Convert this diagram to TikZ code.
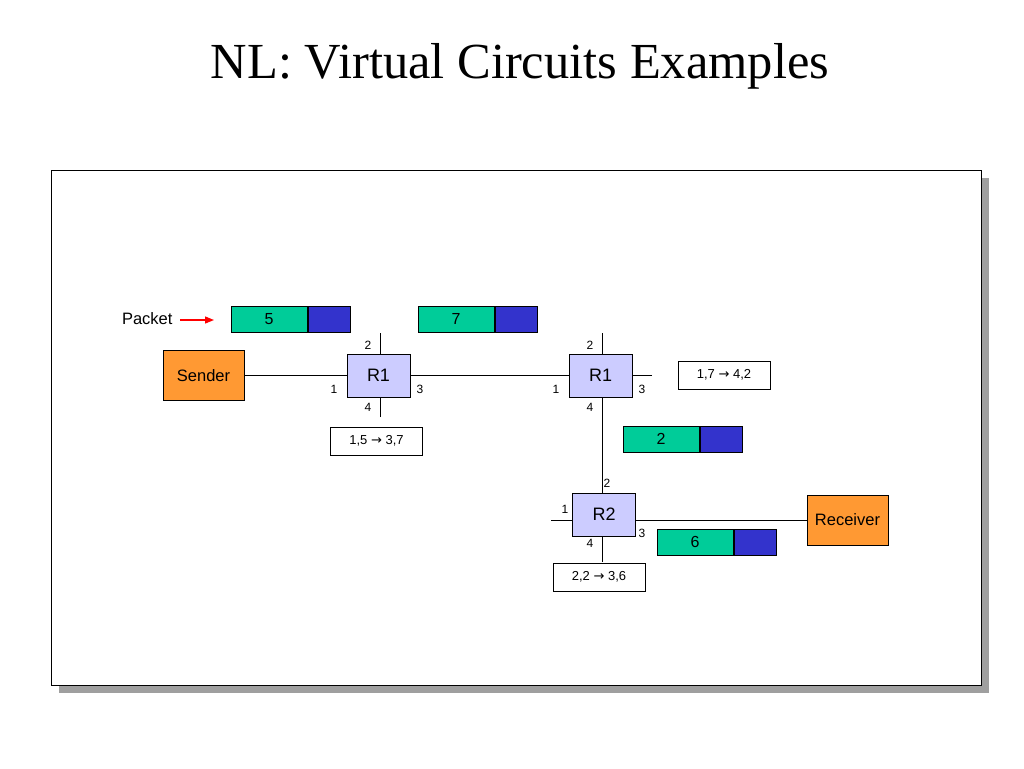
\documentclass[tikz,border=0pt]{standalone}
\usepackage{fontspec}
\setmainfont{Liberation Serif}
\setsansfont{Liberation Sans}
\newfontfamily\arrowfont{DejaVu Sans}
\usetikzlibrary{positioning,arrows.meta,calc}
\definecolor{hdrgreen}{RGB}{0,204,153}
\definecolor{loadblue}{RGB}{51,51,204}
\definecolor{hostorange}{RGB}{255,153,51}
\definecolor{routerblue}{RGB}{204,204,255}
\newcommand{\fwd}{{\arrowfont →}}

\begin{document}
\begin{tikzpicture}[x=1pt,y=-1pt,line width=1pt,
	host/.style={draw,fill=hostorange,minimum width=81pt,minimum height=50pt,inner sep=0pt,font=\sffamily\fontsize{16.5}{16.5}\selectfont},
	router/.style={draw,fill=routerblue,minimum width=63pt,minimum height=43pt,inner sep=0pt,font=\sffamily\fontsize{18}{18}\selectfont},
	fwdtable/.style={draw,fill=white,minimum width=92pt,minimum height=28pt,inner sep=0pt,font=\sffamily\fontsize{13}{13}\selectfont},
	hdr/.style={draw,fill=hdrgreen,minimum width=76pt,minimum height=26pt,inner sep=0pt,font=\sffamily\fontsize{16}{16}\selectfont},
	load/.style={draw,fill=loadblue,minimum width=42pt,minimum height=26pt,inner sep=0pt},
	port/.style={inner sep=0pt,font=\sffamily\fontsize{12}{12}\selectfont}
	]
	\useasboundingbox (0,0) rectangle (1024,768);
	\node[anchor=base,font=\fontsize{50.5}{50.5}\selectfont] (title) at (520,78) {NL: Virtual Circuits Examples};
	\fill[gray!75] (59,178) rectangle (989,693);
	\draw[fill=white] (51,170) rectangle (981,685);
	
	\node[host] (snd) at (203.5,375.5) {Sender};
	\node[host] (rcv) at (847.5,520) {Receiver};
	\node[router] (r1a) at (378.5,375.5) {R1};
	\node[router] (r1b) at (600.5,375.5) {R1};
	\node[router] (r2) at (604,514.5) {R2};
	
	\node[fwdtable] (t1) at (376.5,441) {1,5 \fwd{} 3,7};
	\node[fwdtable] (t2) at (724,375) {1,7 \fwd{} 4,2};
	\node[fwdtable] (t3) at (599,577) {2,2 \fwd{} 3,6};
	
	\node[hdr] (h5) at (269,319) {5};
	\node[load,right=0pt of h5] (l5) {};
	\node[hdr] (h7) at (456,319) {7};
	\node[load,right=0pt of h7] (l7) {};
	\node[hdr] (h2) at (661,439) {2};
	\node[load,right=0pt of h2] (l2) {};
	\node[hdr] (h6) at (695,542) {6};
	\node[load,right=0pt of h6] (l6) {};
	
	\node[anchor=east,inner sep=0pt,font=\sffamily\fontsize{16.5}{16.5}\selectfont] (pkt) at (173,319) {Packet};
	\coordinate (pkt-tip) at (214,320);
	\draw[red,line width=1.3pt,-{Triangle[length=9pt,width=7pt]}] ($(pkt.east)+(7,1)$) -- (pkt-tip);
	
	\coordinate (r1a-n) at (380,333);
	\coordinate (r1a-s) at (380,417);
	\coordinate (r1b-n) at (602,333);
	\coordinate (r1b-e) at (652,375.5);
	\coordinate (r2-w) at (551,520);
	\coordinate (r2-s) at (602,562);
	
	\draw (snd) -- (r1a);
	\draw (r1a) -- (r1b);
	\draw (r1a-n) -- (r1a-n |- r1a.north);
	\draw (r1a-s) -- (r1a-s |- r1a.south);
	\draw (r1b-n) -- (r1b-n |- r1b.north);
	\draw (r1b-e) -- (r1b-e -| r1b.east);
	\draw (r1b-n |- r1b.south) -- (r1b-n |- r2.north);
	\draw (r2-w) -- (r2-w -| r2.west);
	\draw (r2-s) -- (r2-s |- r2.south);
	\draw (rcv.west -| r2.east) -- (rcv.west);
	
	\node[port] (r1a-p2) at (368,345) {2};
	\node[port] (r1a-p1) at (334,389) {1};
	\node[port] (r1a-p3) at (420,389) {3};
	\node[port] (r1a-p4) at (368,407) {4};
	\node[port] (r1b-p2) at (590,345) {2};
	\node[port] (r1b-p1) at (556,389) {1};
	\node[port] (r1b-p3) at (642,389) {3};
	\node[port] (r1b-p4) at (590,407) {4};
	\node[port] (r2-p2) at (607,483) {2};
	\node[port] (r2-p1) at (565,509) {1};
	\node[port] (r2-p3) at (642,533) {3};
	\node[port] (r2-p4) at (590,543) {4};
\end{tikzpicture}
\end{document}
